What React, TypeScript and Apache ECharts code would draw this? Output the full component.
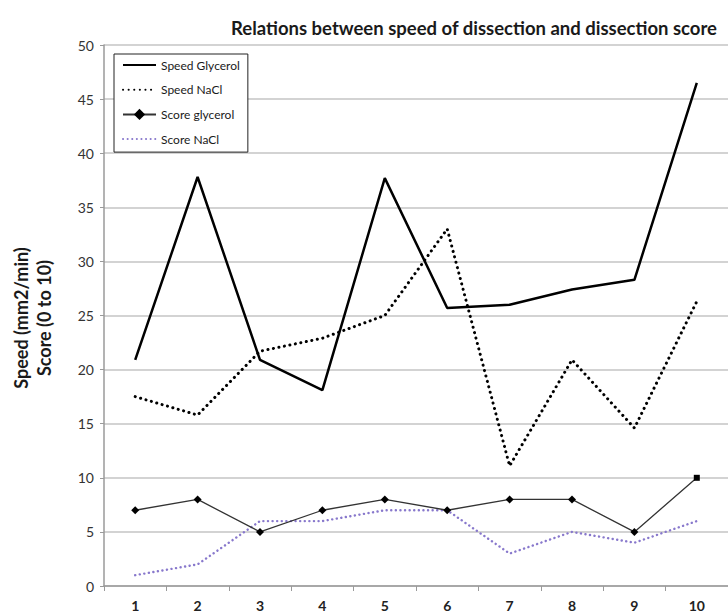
import React, { useEffect, useRef } from "react";
import * as echarts from "echarts";

const categories = ["1", "2", "3", "4", "5", "6", "7", "8", "9", "10"];
const speedGlycerol = [20.9, 37.8, 20.9, 18.1, 37.7, 25.7, 26.0, 27.4, 28.3, 46.5];
const speedNaCl = [17.5, 15.8, 21.7, 22.9, 25.0, 33.0, 11.1, 20.9, 14.6, 26.3];
const scoreGlycerol = [7, 8, 5, 7, 8, 7, 8, 8, 5, 10];
const scoreNaCl = [1, 2, 6, 6, 7, 7, 3, 5, 4, 6];
const yTicks = [0, 50, 5];

const FONT = "Lato, 'Open Sans', sans-serif";

export default function App() {
  const ref = useRef<HTMLDivElement>(null);
  useEffect(() => {
    if (!ref.current) return;
    const chart = echarts.init(ref.current, undefined, { renderer: "svg" });
    const lastIdx = scoreGlycerol.length - 1;
    chart.setOption({
      animation: false,
      backgroundColor: "#ffffff",
      textStyle: { fontFamily: FONT },
      grid: { left: 104, top: 45, width: 633, height: 541, containLabel: false },
      graphic: [
        {
          type: "text",
          x: 474,
          y: 28,
          style: {
            text: "Relations between speed of dissection and dissection score",
            fontFamily: FONT,
            fontWeight: "bold",
            fontSize: 18.5,
            fill: "#1a1a1a",
            textAlign: "center",
            textVerticalAlign: "middle",
          },
        },
        {
          type: "text",
          x: 32,
          y: 318,
          rotation: Math.PI / 2,
          style: {
            text: "Speed (mm2/min)\nScore (0 to 10)",
            fontFamily: FONT,
            fontWeight: "bold",
            fontSize: 18,
            lineHeight: 23,
            fill: "#1a1a1a",
            textAlign: "center",
            textVerticalAlign: "middle",
          },
        },
      ],
      legend: {
        orient: "vertical",
        left: 114,
        top: 54,
        padding: [5, 8, 7, 8],
        itemWidth: 33,
        itemHeight: 14,
        itemGap: 12.7,
        borderColor: "#222",
        borderWidth: 1,
        backgroundColor: "#fff",
        textStyle: { fontSize: 12, color: "#1a1a1a", fontFamily: FONT },
        data: [
          { name: "Speed Glycerol", itemStyle: { opacity: 0 } },
          { name: "Speed NaCl", itemStyle: { opacity: 0 } },
          { name: "Score glycerol" },
          { name: "Score NaCl", itemStyle: { opacity: 0 } },
        ],
      },
      xAxis: {
        type: "category",
        data: categories,
        boundaryGap: true,
        axisLine: { lineStyle: { color: "#9a9a9a", width: 1.5 } },
        axisTick: { show: true, length: 5, lineStyle: { color: "#9a9a9a" } },
        axisLabel: { fontSize: 14, fontWeight: "bold", color: "#222", margin: 12, fontFamily: FONT },
        splitLine: { show: false },
      },
      yAxis: {
        type: "value",
        min: yTicks[0],
        max: yTicks[1],
        interval: yTicks[2],
        axisLine: { show: true, lineStyle: { color: "#9a9a9a", width: 1.5 } },
        axisTick: { show: true, length: 4, lineStyle: { color: "#9a9a9a" } },
        axisLabel: { fontSize: 14, color: "#333", margin: 10, fontFamily: FONT },
        splitLine: { show: true, lineStyle: { color: "#c4c4c4", width: 1.5 } },
      },
      series: [
        {
          name: "Speed Glycerol",
          type: "line",
          data: speedGlycerol,
          symbol: "none",
          lineStyle: { color: "#000", width: 2.5 },
          itemStyle: { color: "#000" },
        },
        {
          name: "Speed NaCl",
          type: "line",
          data: speedNaCl,
          symbol: "none",
          lineStyle: { color: "#000", width: 3, type: [0.1, 5.5], cap: "round" },
          itemStyle: { color: "#000" },
        },
        {
          name: "Score glycerol",
          type: "line",
          data: scoreGlycerol.map((v, i) =>
            i === lastIdx ? { value: v, symbol: "rect", symbolSize: 6 } : v
          ),
          symbol: "diamond",
          symbolSize: 8,
          lineStyle: { color: "#333", width: 1.3 },
          itemStyle: { color: "#000" },
          z: 3,
        },
        {
          name: "Score NaCl",
          type: "line",
          data: scoreNaCl,
          symbol: "none",
          lineStyle: { color: "#8878cc", width: 2.4, type: [0.1, 4.5], cap: "round" },
          itemStyle: { color: "#8878cc" },
          z: 2,
        },
      ],
    });
    return () => chart.dispose();
  }, []);
  return <div ref={ref} style={{ width: 728, height: 612, position: "absolute", left: 0, top: 0 }} />;
}
